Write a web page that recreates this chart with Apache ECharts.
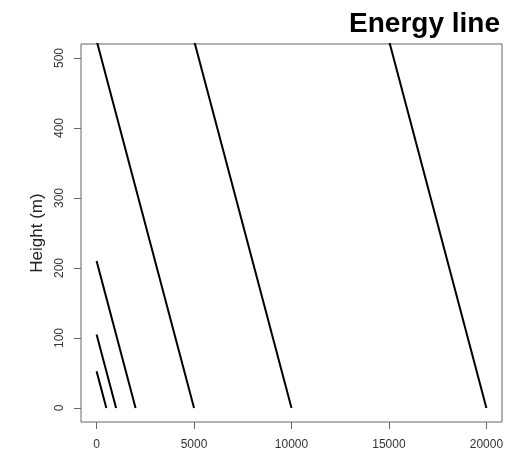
<!DOCTYPE html>
<html>
<head>
<meta charset="utf-8">
<script src="https://cdn.jsdelivr.net/npm/echarts@6/dist/echarts.min.js"></script>
<style>html,body{margin:0;padding:0;background:#fff}#c{width:515px;height:451px}</style>
</head>
<body>
<div id="c"></div>
<script>
const titleText = 'Energy line';
const yName = 'Height (m)';
const lineEnds = [500, 1000, 2000, 5000, 10000, 20000];
const startHeights = [52.5, 105, 210, 525, 1050, 2100];
const xTicks = [0, 5000, 10000, 15000, 20000];
const yTicks = [0, 100, 200, 300, 400, 500];

const series = lineEnds.map((L, i) => ({
  type: 'line',
  data: [[0, startHeights[i]], [L, 0]],
  showSymbol: false,
  symbol: 'none',
  clip: true,
  lineStyle: { color: '#000', width: 2 },
  silent: true
}));

const chart = echarts.init(document.getElementById('c'), null, { renderer: 'canvas' });
chart.setOption({
  animation: false,
  backgroundColor: '#fff',
  title: {
    text: titleText,
    right: 10,
    top: 5,
    textStyle: { fontFamily: 'Liberation Sans', fontWeight: 'bold', fontSize: 28, color: '#000' }
  },
  grid: {
    left: 81, top: 44, right: 13, bottom: 29,
    show: true, borderColor: '#666', borderWidth: 1, containLabel: false
  },
  xAxis: {
    type: 'value', min: -800, max: 20800,
    axisLine: { show: false, onZero: false },
    splitLine: { show: false },
    axisTick: { show: true, inside: false, length: 7, lineStyle: { color: '#666' }, customValues: xTicks },
    axisLabel: { customValues: xTicks, margin: 17, fontFamily: 'Liberation Sans', fontSize: 12, color: '#333',
      formatter: v => String(v) }
  },
  yAxis: {
    type: 'value', min: -20, max: 520,
    name: yName, nameLocation: 'middle', nameGap: 35, nameRotate: 90,
    nameTextStyle: { fontFamily: 'Liberation Sans', fontSize: 17, color: '#222' },
    axisLine: { show: false, onZero: false },
    splitLine: { show: false },
    axisTick: { show: true, inside: false, length: 7, lineStyle: { color: '#666' }, customValues: yTicks },
    axisLabel: { customValues: yTicks, rotate: 90, margin: 15, fontFamily: 'Liberation Sans', fontSize: 12, color: '#333',
      formatter: v => String(v) }
  },
  series: series
});
</script>
</body>
</html>
